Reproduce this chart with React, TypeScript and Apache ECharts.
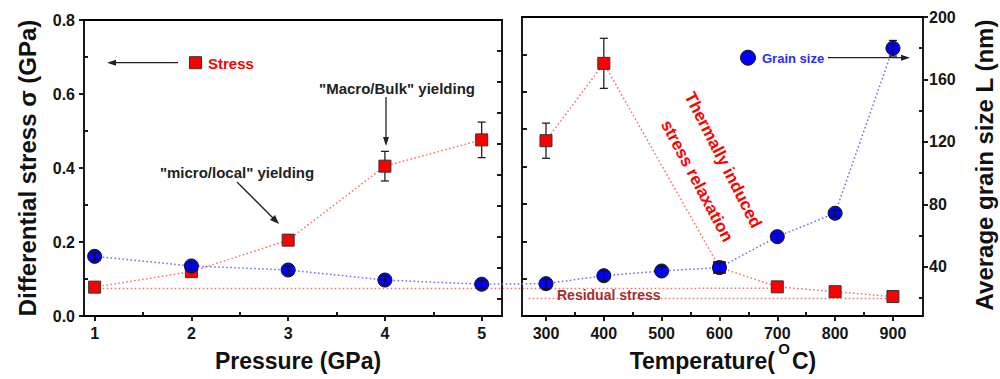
import React, { useEffect, useRef } from "react";
import * as echarts from "echarts";

// ---------- data ----------
const pressures = [1, 2, 3, 4, 5];
const stressP = [0.078, 0.12, 0.205, 0.405, 0.476];
const stressPErr = [0.006, 0.008, 0.014, 0.04, 0.048];
const grainP = [47.5, 41.3, 38.7, 32.2, 29.5];
const grainPErr = [2.5, 2.5, 2.5, 2.5, 2.5];

const temps = [300, 400, 500, 600, 700, 800, 900];
const grainT = [29.3, 34.4, 37.4, 39.6, 59.4, 74.4, 180];
const grainTErr = [3, 3, 3, 3, 2, 2, 5];
const stressTemps = [300, 400, 600, 700, 800, 900];
const stressT = [0.469, 0.676, 0.13, 0.078, 0.065, 0.052];
const stressTErr = [0.047, 0.067, 0.01, 0.01, 0.01, 0.01];

const residualHigh = 0.074; // from P = 1 to T = 700
const residualLow = 0.047; // from T = 270 to T = 900
const residualLowRange = [270, 900];

// ---------- ticks ----------
const pressureTicks = [1, 2, 3, 4, 5];
const pressureMinor = [1.5, 2.5, 3.5, 4.5];
const tempTicks = [300, 400, 500, 600, 700, 800, 900];
const tempMinor = [350, 450, 550, 650, 750, 850];
const stressInner = [0.1, 0.2, 0.3, 0.4, 0.5, 0.6, 0.7];
const stressMinor = [0.1, 0.3, 0.5, 0.7];
const grainTicks = [40, 80, 120, 160, 200];
const grainMinor = [20, 60, 100, 140, 180];
const grainInner = [20, 40, 60, 80, 100, 120, 140, 160, 180];

const FONT = "Arial, 'Liberation Sans', Helvetica, sans-serif";
const RED = "#ff0000";
const BLUE = "#0000ff";
const LINE_RED = "#ff6f6f";
const LINE_BLUE = "#6f6fff";
const DASH = [1.6, 2.4];

const axisLine = { show: true, onZero: false, lineStyle: { color: "#000", width: 1.8 } };
const tickLine = { color: "#000", width: 1.8 };
const labelStyle = { fontFamily: FONT, fontWeight: "bold" as const, fontSize: 16, color: "#151515" };

const errRender = (cap: number, color: string, width: number) => (params: any, api: any) => {
  const x = api.value(0);
  const lo = api.coord([x, api.value(1)]);
  const hi = api.coord([x, api.value(2)]);
  const st = { stroke: color, lineWidth: width };
  return {
    type: "group",
    children: [
      { type: "line", shape: { x1: lo[0], y1: lo[1], x2: hi[0], y2: hi[1] }, style: st },
      { type: "line", shape: { x1: lo[0] - cap, y1: lo[1], x2: lo[0] + cap, y2: lo[1] }, style: st },
      { type: "line", shape: { x1: hi[0] - cap, y1: hi[1], x2: hi[0] + cap, y2: hi[1] }, style: st },
    ],
  };
};

const pairs = (xs: number[], ys: number[]) => xs.map((x, i) => [x, ys[i]]);
const errs = (xs: number[], ys: number[], es: number[]) => xs.map((x, i) => [x, ys[i] - es[i], ys[i] + es[i]]);

export default function App() {
  const ref = useRef<HTMLDivElement>(null);
  useEffect(() => {
    const el = ref.current!;
    const chart = echarts.init(el, null, { renderer: "svg" });
    const pMin = 0.89, pMax = 5.21, tMin = 258.5, tMax = 952;
    const option: any = {
      animation: false,
      backgroundColor: "#fff",
      grid: [
        { left: 84, top: 20, width: 418, height: 296, outerBoundsMode: "none" },
        { left: 522, top: 17, width: 401, height: 299, outerBoundsMode: "none" },
      ],
      xAxis: [
        { type: "value", gridIndex: 0, position: "bottom", min: pMin, max: pMax, axisLine,
          axisTick: { show: true, customValues: pressureTicks, inside: false, length: 5, lineStyle: tickLine },
          axisLabel: { ...labelStyle, customValues: pressureTicks, margin: 9 }, splitLine: { show: false } },
        { type: "value", gridIndex: 0, position: "bottom", min: pMin, max: pMax, axisLine: { show: false },
          axisTick: { show: true, customValues: pressureMinor, inside: true, length: 4, lineStyle: tickLine },
          axisLabel: { show: false }, splitLine: { show: false } },
        { type: "value", gridIndex: 0, position: "top", min: pMin, max: pMax, axisLine,
          axisTick: { show: false }, axisLabel: { show: false }, splitLine: { show: false } },
        { type: "value", gridIndex: 1, position: "bottom", min: tMin, max: tMax, axisLine,
          axisTick: { show: true, customValues: tempTicks, inside: false, length: 5, lineStyle: tickLine },
          axisLabel: { ...labelStyle, customValues: tempTicks, margin: 9 }, splitLine: { show: false } },
        { type: "value", gridIndex: 1, position: "bottom", min: tMin, max: tMax, axisLine: { show: false },
          axisTick: { show: true, customValues: tempMinor, inside: true, length: 4, lineStyle: tickLine },
          axisLabel: { show: false }, splitLine: { show: false } },
        { type: "value", gridIndex: 1, position: "top", min: tMin, max: tMax, axisLine,
          axisTick: { show: false }, axisLabel: { show: false }, splitLine: { show: false } },
      ],
      yAxis: [
        { type: "value", gridIndex: 0, position: "left", min: 0, max: 0.8, interval: 0.2, axisLine,
          axisTick: { show: true, inside: false, length: 5, lineStyle: tickLine },
          axisLabel: { ...labelStyle, margin: 9, formatter: (v: number) => v.toFixed(1) }, splitLine: { show: false } },
        { type: "value", gridIndex: 0, position: "left", min: 0, max: 0.8, axisLine: { show: false },
          axisTick: { show: true, customValues: stressMinor, inside: true, length: 4, lineStyle: tickLine },
          axisLabel: { show: false }, splitLine: { show: false } },
        { type: "value", gridIndex: 0, position: "right", min: 9, max: 200, axisLine,
          axisTick: { show: true, customValues: grainInner, inside: true, length: 5, lineStyle: tickLine },
          axisLabel: { show: false }, splitLine: { show: false } },
        { type: "value", gridIndex: 1, position: "left", min: 0, max: 0.8, axisLine,
          axisTick: { show: true, customValues: stressInner, inside: true, length: 5, lineStyle: tickLine },
          axisLabel: { show: false }, splitLine: { show: false } },
        { type: "value", gridIndex: 1, position: "right", min: 8.6, max: 200, axisLine,
          axisTick: { show: true, customValues: grainTicks, inside: false, length: 5, lineStyle: tickLine },
          axisLabel: { ...labelStyle, customValues: grainTicks, margin: 6 }, splitLine: { show: false } },
        { type: "value", gridIndex: 1, position: "right", min: 8.6, max: 200, axisLine: { show: false },
          axisTick: { show: true, customValues: grainMinor, inside: true, length: 4, lineStyle: tickLine },
          axisLabel: { show: false }, splitLine: { show: false } },
      ],
      series: [
        // 0 left stress error bars
        { type: "custom", xAxisIndex: 0, yAxisIndex: 0, z: 2, data: errs(pressures, stressP, stressPErr),
          renderItem: errRender(4, "#222", 1.3) },
        // 1 left stress
        { type: "line", xAxisIndex: 0, yAxisIndex: 0, z: 3, data: pairs(pressures, stressP),
          symbol: "rect", symbolSize: 12,
          itemStyle: { color: RED, borderColor: "#333", borderWidth: 1 },
          lineStyle: { color: LINE_RED, width: 1.5, type: DASH } },
        // 2 left grain size
        { type: "line", xAxisIndex: 0, yAxisIndex: 2, z: 4, data: pairs(pressures, grainP),
          symbol: "circle", symbolSize: 14,
          itemStyle: { color: BLUE, borderColor: "#111", borderWidth: 1 },
          lineStyle: { color: LINE_BLUE, width: 1.5, type: DASH } },
        // 3 left grain error bars
        { type: "custom", xAxisIndex: 0, yAxisIndex: 2, z: 5, data: errs(pressures, grainP, grainPErr),
          renderItem: errRender(4, "#111", 1.2) },
        // 4 right stress error bars
        { type: "custom", xAxisIndex: 3, yAxisIndex: 3, z: 2, data: errs(stressTemps, stressT, stressTErr),
          renderItem: errRender(4, "#222", 1.3) },
        // 5 right stress
        { type: "line", xAxisIndex: 3, yAxisIndex: 3, z: 3, data: pairs(stressTemps, stressT),
          symbol: "rect", symbolSize: 12,
          itemStyle: { color: RED, borderColor: "#333", borderWidth: 1 },
          lineStyle: { color: LINE_RED, width: 1.5, type: DASH } },
        // 6 right grain size
        { type: "line", xAxisIndex: 3, yAxisIndex: 4, z: 4, data: pairs(temps, grainT),
          symbol: "circle", symbolSize: 14,
          itemStyle: { color: BLUE, borderColor: "#111", borderWidth: 1 },
          lineStyle: { color: LINE_BLUE, width: 1.5, type: DASH } },
        // 7 right grain error bars
        { type: "custom", xAxisIndex: 3, yAxisIndex: 4, z: 5, data: errs(temps, grainT, grainTErr),
          renderItem: errRender(4, "#111", 1.2) },
        // 8 residual stress (low) line
        { type: "line", xAxisIndex: 3, yAxisIndex: 3, z: 1, symbol: "none",
          data: residualLowRange.map((t) => [t, residualLow]),
          lineStyle: { color: LINE_RED, width: 1.5, type: DASH } },
      ],
    };
    chart.setOption(option);

    const px = (si: number, pt: number[]) => chart.convertToPixel({ seriesIndex: si }, pt) as number[];
    const a = px(1, [pressures[0], residualHigh]);
    const b = px(5, [700, residualHigh]);
    const c = px(2, [pressures[4], grainP[4]]);
    const d = px(6, [temps[0], grainT[0]]);
    const dotted = (p: number[], q: number[], color: string) => ({
      type: "line", z: 1, silent: true,
      shape: { x1: p[0], y1: p[1], x2: q[0], y2: q[1] },
      style: { stroke: color, lineWidth: 1.5, lineDash: DASH },
    });
    const arrowLine = (x1: number, y1: number, x2: number, y2: number) => ({
      type: "line", z: 10, shape: { x1, y1, x2, y2 }, style: { stroke: "#222", lineWidth: 1.3 },
    });
    const head = (pts: number[][]) => ({ type: "polygon", z: 10, shape: { points: pts }, style: { fill: "#222" } });
    const txt = (x: number, y: number, text: string, size: number, color: string, extra: any = {}) => ({
      type: "text", z: 10, x, y,
      style: { text, fill: color, fontFamily: FONT, fontWeight: "bold", fontSize: size,
        textAlign: "left", textVerticalAlign: "middle", ...extra },
    });

    chart.setOption({
      graphic: [
        dotted(a, b, LINE_RED),
        dotted(c, d, LINE_BLUE),
        // Stress legend
        arrowLine(178, 62.7, 114, 62.7),
        head([[107, 62.7], [116, 59.7], [116, 65.7]]),
        { type: "rect", z: 10, shape: { x: 189.5, y: 56.7, width: 12, height: 12 },
          style: { fill: RED, stroke: "#333", lineWidth: 1 } },
        txt(208, 63, "Stress", 15, RED),
        // yielding annotations
        txt(397, 88, "\"Macro/Bulk\" yielding", 15, "#222", { textAlign: "center" }),
        arrowLine(386, 97, 386, 139),
        head([[386, 146], [383, 137], [389, 137]]),
        txt(237, 172, "\"micro/local\" yielding", 15, "#222", { textAlign: "center" }),
        arrowLine(237, 182, 274, 219),
        head([[279, 224], [270, 220], [275, 215]]),
        // Grain size legend
        { type: "circle", z: 10, shape: { cx: 748, cy: 57.7, r: 7.5 }, style: { fill: BLUE, stroke: "#111", lineWidth: 1 } },
        txt(762, 58, "Grain size", 13, "#2a2aff"),
        arrowLine(828, 57.7, 902, 57.7),
        head([[910, 57.7], [901, 54.7], [901, 60.7]]),
        // rotated annotation
        { type: "text", z: 10, x: 723, y: 160, rotation: (-63 * Math.PI) / 180,
          style: { text: "Thermally induced", fill: RED, fontFamily: FONT, fontWeight: "bold", fontSize: 17,
            textAlign: "center", textVerticalAlign: "middle" } },
        { type: "text", z: 10, x: 697, y: 181, rotation: (-62 * Math.PI) / 180,
          style: { text: "stress relaxation", fill: RED, fontFamily: FONT, fontWeight: "bold", fontSize: 17,
            textAlign: "center", textVerticalAlign: "middle" } },
        txt(557, 294.5, "Residual stress", 14, "#a0302f"),
        // axis titles
        { type: "text", z: 10, x: 27, y: 168, rotation: Math.PI / 2,
          style: { text: "Differential stress σ (GPa)", fill: "#111", fontFamily: FONT, fontWeight: "bold", fontSize: 24,
            textAlign: "center", textVerticalAlign: "middle" } },
        { type: "text", z: 10, x: 984, y: 165, rotation: Math.PI / 2,
          style: { text: "Average grain size L (nm)", fill: "#111", fontFamily: FONT, fontWeight: "bold", fontSize: 24,
            textAlign: "center", textVerticalAlign: "middle" } },
        txt(298, 361, "Pressure (GPa)", 23, "#111", { textAlign: "center" }),
        txt(775, 361, "Temperature(", 23, "#111", { textAlign: "right" }),
        txt(784, 348, "O", 15, "#111", { textAlign: "center" }),
        txt(792, 361, "C)", 23, "#111", { textAlign: "left" }),
      ],
    });
    return () => chart.dispose();
  }, []);
  return (
    <div
      ref={ref}
      style={{ position: "absolute", left: 0, top: 0, width: 1000, height: 379, background: "#fff" }}
    />
  );
}
